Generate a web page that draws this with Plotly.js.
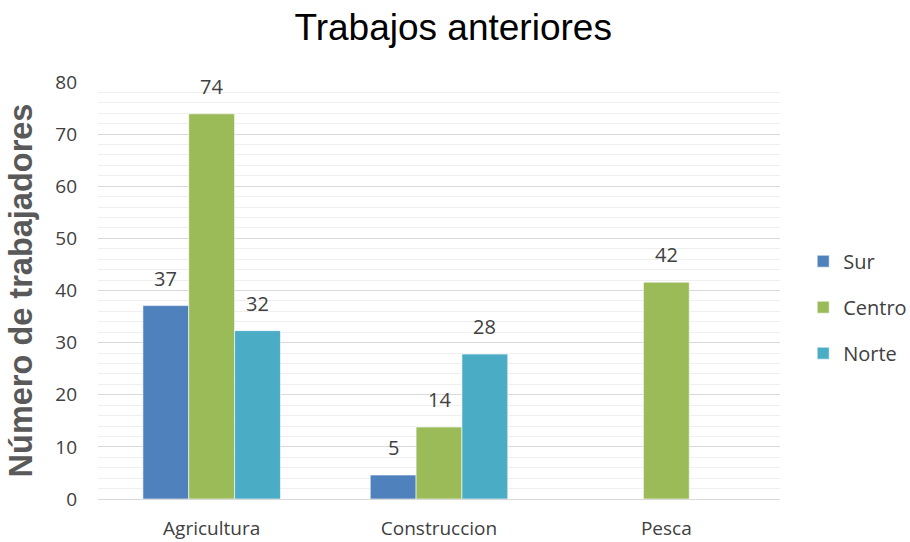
<!DOCTYPE html>
<html>
<head>
<meta charset="utf-8">
<script src="https://cdn.plot.ly/plotly-3.0.1.min.js"></script>
<style>html,body{margin:0;padding:0;background:#fff;}#chart{width:910px;height:542px;}</style>
</head>
<body>
<div id="chart"></div>
<script>
var categories = ["Agricultura", "Construccion", "Pesca"];
var seriesNames = ["Sur", "Centro", "Norte"];
var sur = [37.1, 4.6, null];
var centro = [73.9, 13.8, 41.6];
var norte = [32.3, 27.8, null];
var colors = ["#4F81BD", "#9BBB59", "#4BACC6"];
var yTicks = [0, 10, 20, 30, 40, 50, 60, 70, 80];

var allSeries = [sur, centro, norte];
var traces = allSeries.map(function (vals, i) {
  return {
    type: "bar",
    name: seriesNames[i],
    x: categories,
    y: vals,
    legendgroup: seriesNames[i],
    marker: { color: colors[i], line: { color: "rgba(255,255,255,0.6)", width: 1 } },
    hoverinfo: "none"
  };
});

var fam = "'Open Sans', Lato, sans-serif";

// data labels as annotations placed over each bar via the axis scales
var annotations = [];
var nSeries = allSeries.length;
allSeries.forEach(function (vals, i) {
  vals.forEach(function (v, j) {
    if (v === null) return;
    annotations.push({
      x: j, y: v, xref: "x", yref: "y",
      xshift: (i - (nSeries - 1) / 2) * 45.7,
      yshift: 12,
      yanchor: "bottom",
      text: String(Math.round(v)),
      showarrow: false,
      font: { family: fam, size: 20, color: "#404040" }
    });
  });
});

var layout = {
  width: 910, height: 542,
  paper_bgcolor: "#ffffff", plot_bgcolor: "#ffffff",
  margin: { l: 98, r: 130, t: 82, b: 43, pad: 0, autoexpand: false },
  title: {
    text: "Trabajos anteriores",
    font: { family: "'Liberation Sans', Arial, sans-serif", size: 37, color: "#000000" },
    x: 0.498, xanchor: "center", xref: "container", y: 0.951, yanchor: "middle"
  },
  barmode: "group",
  bargap: 0.395,
  bargroupgap: 0,
  xaxis: {
    type: "category",
    showgrid: false,
    showline: true, linecolor: "#d9d9d9", linewidth: 1,
    ticks: "", ticklen: 0,
    ticklabelstandoff: 12,
    tickfont: { family: fam, size: 19, color: "#404040" },
    fixedrange: true
  },
  yaxis: {
    range: [0, 80],
    tickvals: yTicks,
    ticktext: yTicks.map(String),
    showgrid: true, gridcolor: "#d9d9d9", gridwidth: 1,
    minor: { dtick: 2, showgrid: true, gridcolor: "#efefef", gridwidth: 1 },
    zeroline: false,
    showline: false,
    ticks: "",
    ticklabelstandoff: 20,
    tickfont: { family: fam, size: 19, color: "#404040" },
    title: {
      text: "Número de trabajadores",
      font: { family: "'Liberation Sans', Arial, sans-serif", size: 32.5, color: "#595959", weight: "bold" },
      standoff: 12
    },
    fixedrange: true
  },
  legend: {
    x: 1.034, xanchor: "left", y: 0.46, yanchor: "middle",
    font: { family: fam, size: 20, color: "#404040" },
    tracegroupgap: 17,
    itemwidth: 30,
    bgcolor: "rgba(0,0,0,0)"
  },
  annotations: annotations,
  showlegend: true
};

Plotly.newPlot("chart", traces, layout, { displayModeBar: false, staticPlot: true });
</script>
</body>
</html>
